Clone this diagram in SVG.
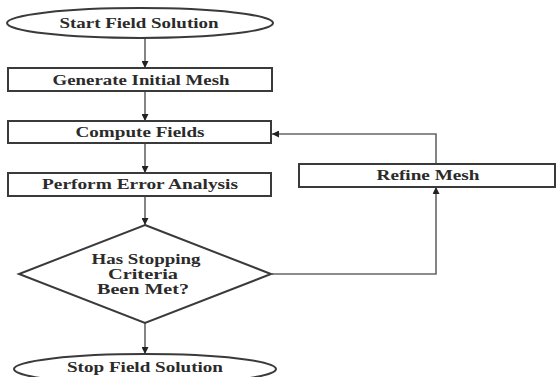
<svg xmlns="http://www.w3.org/2000/svg" width="556" height="377" viewBox="0 0 556 377">
<style>
.shape{fill:#fff;stroke:#3a3a3a;stroke-width:2}
.t{font-family:"Times New Roman","Liberation Serif","DejaVu Serif",serif;font-weight:bold;font-size:15px;fill:#2b2b2b;text-anchor:middle}
.c{fill:none;stroke:#666;stroke-width:1.6}
</style>
<defs>
<marker id="ah" viewBox="0 0 10 10" refX="10" refY="5" markerWidth="7" markerHeight="7" markerUnits="userSpaceOnUse" orient="auto">
<path d="M0,0 L10,5 L0,10 z" fill="#222"/>
</marker>
</defs>
<rect width="556" height="377" fill="#fff"/>
<g id="connectors">
<line class="c" x1="145" y1="38" x2="145" y2="68" marker-end="url(#ah)"/>
<line class="c" x1="145" y1="91" x2="145" y2="121" marker-end="url(#ah)"/>
<line class="c" x1="145" y1="143" x2="145" y2="173" marker-end="url(#ah)"/>
<line class="c" x1="145" y1="196" x2="145" y2="225" marker-end="url(#ah)"/>
<line class="c" x1="145" y1="323" x2="145" y2="354" marker-end="url(#ah)"/>
<polyline class="c" points="272,274 436,274 436,187" marker-end="url(#ah)"/>
<polyline class="c" points="436,164 436,134 272,134" marker-end="url(#ah)"/>
</g>
<g id="start">
<ellipse class="shape" cx="140" cy="23" rx="133" ry="15"/>
<text class="t" x="139" y="28" textLength="159" lengthAdjust="spacingAndGlyphs">Start Field Solution</text>
</g>
<g id="generate">
<rect class="shape" x="8" y="68" width="264" height="23"/>
<text class="t" x="141" y="85" textLength="177" lengthAdjust="spacingAndGlyphs">Generate Initial Mesh</text>
</g>
<g id="compute">
<rect class="shape" x="8" y="121" width="263" height="22"/>
<text class="t" x="140" y="137" textLength="129" lengthAdjust="spacingAndGlyphs">Compute Fields</text>
</g>
<g id="perform">
<rect class="shape" x="8" y="173" width="263" height="23"/>
<text class="t" x="140" y="189" textLength="196" lengthAdjust="spacingAndGlyphs">Perform Error Analysis</text>
</g>
<g id="refine">
<rect class="shape" x="299" y="164" width="256" height="23"/>
<text class="t" x="428" y="180" textLength="103" lengthAdjust="spacingAndGlyphs">Refine Mesh</text>
</g>
<g id="decision">
<polygon class="shape" points="145,225 271,274 145,323 19,274"/>
<text class="t" x="146" y="264" textLength="109" lengthAdjust="spacingAndGlyphs">Has Stopping</text>
<text class="t" x="143" y="279" textLength="70" lengthAdjust="spacingAndGlyphs">Criteria</text>
<text class="t" x="143" y="294" textLength="92" lengthAdjust="spacingAndGlyphs">Been Met?</text>
</g>
<g id="stop">
<ellipse class="shape" cx="145" cy="369" rx="131" ry="15"/>
<text class="t" x="145" y="372" textLength="156" lengthAdjust="spacingAndGlyphs">Stop Field Solution</text>
</g>
</svg>
